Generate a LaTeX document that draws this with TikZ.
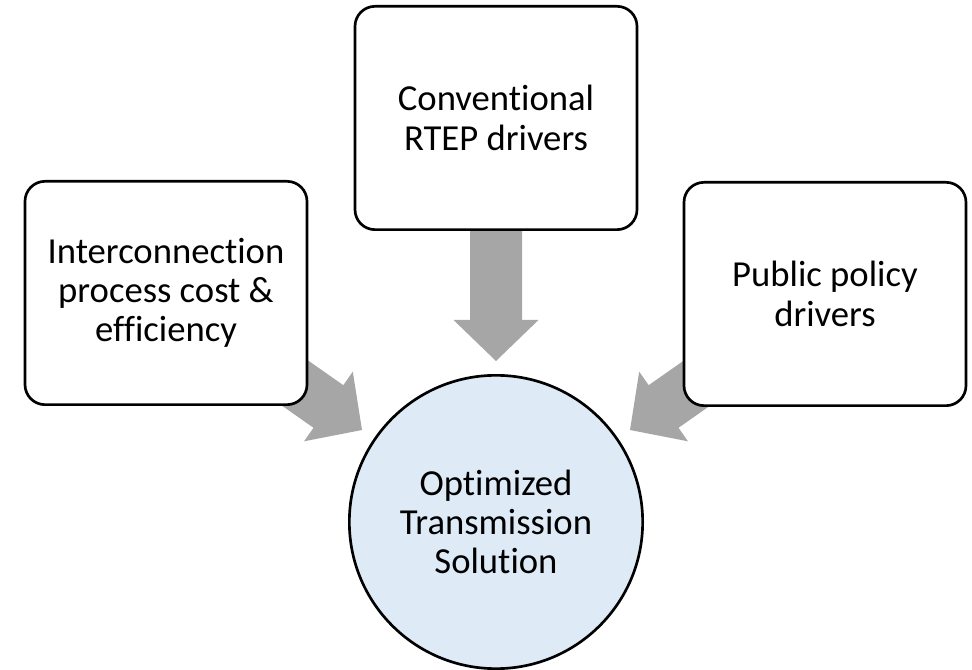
\documentclass[tikz,border=0pt]{standalone}
\usepackage{fontspec}
\setmainfont[Ligatures=NoCommon]{Carlito}
\usetikzlibrary{backgrounds}
\definecolor{hubblue}{HTML}{DEEBF7}
\definecolor{arrowgray}{HTML}{A6A6A6}
\newcommand\myblockarrow[3]{%
  \fill[arrowgray, shift={(#1)}, rotate=#2]
    (0,0) -- (-41,42.5) -- (-41,26) -- (-#3,26) -- (-#3,-26) -- (-41,-26) -- (-41,-42.5) -- cycle;}
\begin{document}
\begin{tikzpicture}[x=0.75pt,y=-0.75pt,
  box/.style={draw=black, line width=2pt, rounded corners=15pt, fill=white,
    minimum width=211.5pt, minimum height=167.5pt, align=center, inner sep=0pt,
    font=\fontsize{27.5}{29.5}\selectfont},
  hub/.style={circle, draw=black, line width=2pt, fill=hubblue, minimum size=220pt,
    align=center, inner sep=0pt, font=\fontsize{27.5}{29.5}\selectfont}]
\useasboundingbox (0,0) rectangle (972,670);

\node[box] (left) at (166,293) {Interconnection\\process cost \&\\efficiency};
\node[box] (top) at (496,118) {Conventional\\RTEP drivers};
\node[box] (right) at (825,294) {Public policy\\drivers};
\node[hub] (hub) at (496,522) {Optimized\\Transmission\\Solution};

\coordinate (tipL) at (362,430);
\coordinate (tipT) at (496,361);
\coordinate (tipR) at (630,430);

\begin{pgfonlayer}{background}
  \myblockarrow{tipL}{-35}{130}
  \myblockarrow{tipT}{-90}{150}
  \myblockarrow{tipR}{-145}{130}
\end{pgfonlayer}
\end{tikzpicture}
\end{document}
